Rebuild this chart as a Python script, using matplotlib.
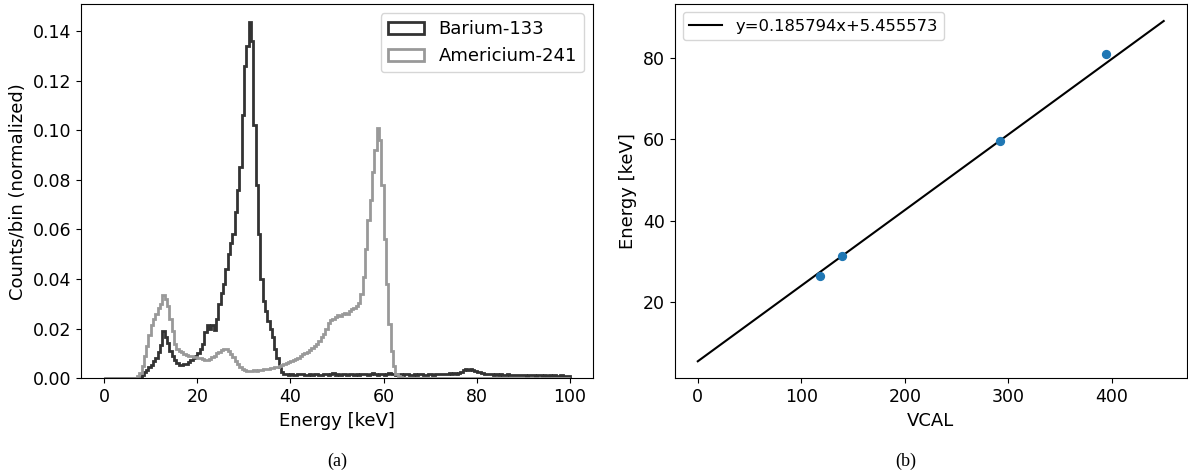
import numpy as np
import matplotlib
matplotlib.use("Agg")
import matplotlib.pyplot as plt

# ---- spectra: normalized counts per 0.5 keV bin, 0-100 keV ----
bin_edges = np.arange(0.0, 100.5, 0.5)

barium = [
    # 0-10 keV
    0, 0, 0, 0, 0, 0, 0, 0, 0, 0, 0, 0, 0, 0, 0.0002, 0.0006, 0.0015, 0.0025, 0.0035, 0.0045,
    # 10-20 keV
    0.0055, 0.0068, 0.0080, 0.0105, 0.0135, 0.0192, 0.0168, 0.0142, 0.0110, 0.0090,
    0.0075, 0.0062, 0.0055, 0.0052, 0.0058, 0.0056, 0.0065, 0.0072, 0.0080, 0.0088,
    # 20-30 keV
    0.0102, 0.0118, 0.0140, 0.0185, 0.0215, 0.0200, 0.0215, 0.0195, 0.0240, 0.0300,
    0.0345, 0.0380, 0.0440, 0.0500, 0.0545, 0.0580, 0.0670, 0.0760, 0.0850, 0.1060,
    # 30-40 keV
    0.1260, 0.1340, 0.1437, 0.1360, 0.1020, 0.0780, 0.0580, 0.0400, 0.0310, 0.0270,
    0.0230, 0.0200, 0.0165, 0.0120, 0.0080, 0.0045, 0.0025, 0.0018, 0.0016, 0.0014,
    # 40-50 keV
    0.0018, 0.0015, 0.0013, 0.0017, 0.0016, 0.0019, 0.0014, 0.0015, 0.0017, 0.0013,
    0.0016, 0.0018, 0.0015, 0.0014, 0.0017, 0.0016, 0.0013, 0.0018, 0.0020, 0.0015,
    # 50-60 keV
    0.0016, 0.0014, 0.0019, 0.0017, 0.0015, 0.0018, 0.0016, 0.0014, 0.0017, 0.0015,
    0.0019, 0.0016, 0.0018, 0.0015, 0.0017, 0.0020, 0.0016, 0.0014, 0.0018, 0.0017,
    # 60-70 keV
    0.0015, 0.0019, 0.0021, 0.0016, 0.0018, 0.0015, 0.0017, 0.0016, 0.0014, 0.0018,
    0.0016, 0.0013, 0.0015, 0.0017, 0.0014, 0.0016, 0.0018, 0.0015, 0.0013, 0.0016,
    # 70-80 keV
    0.0017, 0.0015, 0.0018, 0.0016, 0.0019, 0.0017, 0.0018, 0.0016, 0.0020, 0.0019,
    0.0021, 0.0018, 0.0023, 0.0026, 0.0032, 0.0036, 0.0034, 0.0038, 0.0033, 0.0030,
    # 80-90 keV
    0.0027, 0.0024, 0.0021, 0.0019, 0.0017, 0.0018, 0.0016, 0.0015, 0.0017, 0.0014,
    0.0016, 0.0015, 0.0013, 0.0016, 0.0014, 0.0012, 0.0015, 0.0013, 0.0014, 0.0012,
    # 90-100 keV
    0.0013, 0.0011, 0.0014, 0.0012, 0.0013, 0.0011, 0.0012, 0.0014, 0.0010, 0.0012,
    0.0011, 0.0013, 0.0010, 0.0012, 0.0011, 0.0009, 0.0012, 0.0010, 0.0011, 0.0009,
]

americium = [
    # 0-10 keV
    0, 0, 0, 0, 0, 0, 0, 0, 0, 0, 0, 0, 0, 0.0003, 0.0008, 0.0020, 0.0050, 0.0090, 0.0130, 0.0175,
    # 10-20 keV
    0.0215, 0.0240, 0.0260, 0.0285, 0.0300, 0.0335, 0.0320, 0.0290, 0.0240, 0.0190,
    0.0140, 0.0120, 0.0112, 0.0105, 0.0098, 0.0095, 0.0090, 0.0088, 0.0085, 0.0086,
    # 20-30 keV
    0.0082, 0.0080, 0.0076, 0.0074, 0.0072, 0.0078, 0.0084, 0.0090, 0.0100, 0.0108,
    0.0115, 0.0120, 0.0118, 0.0110, 0.0098, 0.0085, 0.0070, 0.0058, 0.0045, 0.0038,
    # 30-40 keV
    0.0033, 0.0030, 0.0031, 0.0029, 0.0032, 0.0031, 0.0034, 0.0033, 0.0036, 0.0038,
    0.0037, 0.0040, 0.0042, 0.0044, 0.0046, 0.0048, 0.0052, 0.0056, 0.0060, 0.0064,
    # 40-50 keV
    0.0068, 0.0074, 0.0079, 0.0083, 0.0090, 0.0096, 0.0103, 0.0108, 0.0116, 0.0124,
    0.0132, 0.0140, 0.0152, 0.0165, 0.0178, 0.0200, 0.0222, 0.0235, 0.0240, 0.0248,
    # 50-60 keV
    0.0255, 0.0250, 0.0260, 0.0265, 0.0258, 0.0270, 0.0278, 0.0285, 0.0292, 0.0305,
    0.0340, 0.0410, 0.0520, 0.0640, 0.0720, 0.0830, 0.0920, 0.1008, 0.0960, 0.0780,
    # 60-70 keV
    0.0560, 0.0380, 0.0220, 0.0110, 0.0050, 0.0018, 0.0008, 0.0004, 0.0003, 0.0002,
    0.0002, 0.0003, 0.0002, 0.0002, 0.0001, 0.0002, 0.0003, 0.0002, 0.0002, 0.0001,
    # 70-80 keV
    0.0002, 0.0002, 0.0001, 0.0002, 0.0003, 0.0002, 0.0002, 0.0001, 0.0002, 0.0002,
    0.0003, 0.0002, 0.0002, 0.0003, 0.0002, 0.0002, 0.0001, 0.0002, 0.0002, 0.0002,
    # 80-90 keV
    0.0002, 0.0001, 0.0002, 0.0002, 0.0001, 0.0002, 0.0001, 0.0002, 0.0001, 0.0001,
    0.0002, 0.0001, 0.0001, 0.0002, 0.0001, 0.0001, 0.0001, 0.0002, 0.0001, 0.0001,
    # 90-100 keV
    0.0001, 0.0001, 0.0001, 0.0002, 0.0001, 0.0001, 0.0001, 0.0001, 0.0001, 0.0001,
    0.0001, 0.0001, 0.0001, 0.0001, 0.0001, 0.0001, 0.0001, 0.0001, 0.0001, 0.0001,
]

# ---- calibration points: VCAL vs. known line energy ----
vcal_points = [118.3, 139.0, 292.0, 394.2]
energy_points = [26.3, 31.4, 59.5, 81.0]
fit_slope = 0.185794
fit_intercept = 5.455573
fit_vcal_range = [0, 450]

fig = plt.figure(figsize=(11.88, 4.75), dpi=100)
ax1 = fig.add_axes([81 / 1188, 1 - 378.3 / 475, 512 / 1188, 374.3 / 475])
ax2 = fig.add_axes([674.5 / 1188, 1 - 378.3 / 475, 512.5 / 1188, 374.3 / 475])

bin_centers = 0.5 * (bin_edges[:-1] + bin_edges[1:])
ax1.hist(bin_centers, bins=bin_edges, weights=barium, histtype="step",
         color="#333333", lw=2, label="Barium-133")
ax1.hist(bin_centers, bins=bin_edges, weights=americium, histtype="step",
         color="#999999", lw=2, label="Americium-241")
ax1.set_xlim(-5, 105)
ax1.set_ylim(0, max(barium) * 1.05)
ax1.set_xticks([0, 20, 40, 60, 80, 100])
ax1.set_xlabel("Energy [keV]", fontsize=13)
ax1.set_ylabel("Counts/bin (normalized)", fontsize=13)
ax1.tick_params(labelsize=12.5)
ax1.legend(loc="upper right", fontsize=13)

xfit = np.array(fit_vcal_range, dtype=float)
ax2.plot(xfit, fit_slope * xfit + fit_intercept, color="black", lw=1.5,
         label=f"y={fit_slope:.6f}x+{fit_intercept:.6f}")
ax2.scatter(vcal_points, energy_points, s=32, color="C0", zorder=3)
ax2.set_xlabel("VCAL", fontsize=13)
ax2.set_ylabel("Energy [keV]", fontsize=13)
ax2.set_xticks([0, 100, 200, 300, 400])
ax2.set_yticks([20, 40, 60, 80])
ax2.tick_params(labelsize=12.5)
ax2.legend(loc="upper left", fontsize=11.8)

fig.text(337 / 1188, 1 - 461 / 475, "(a)", ha="center", va="center",
         family="Liberation Serif", fontsize=13)
fig.text(906 / 1188, 1 - 461 / 475, "(b)", ha="center", va="center",
         family="Liberation Serif", fontsize=13)

fig.savefig("out.png", dpi=100)
